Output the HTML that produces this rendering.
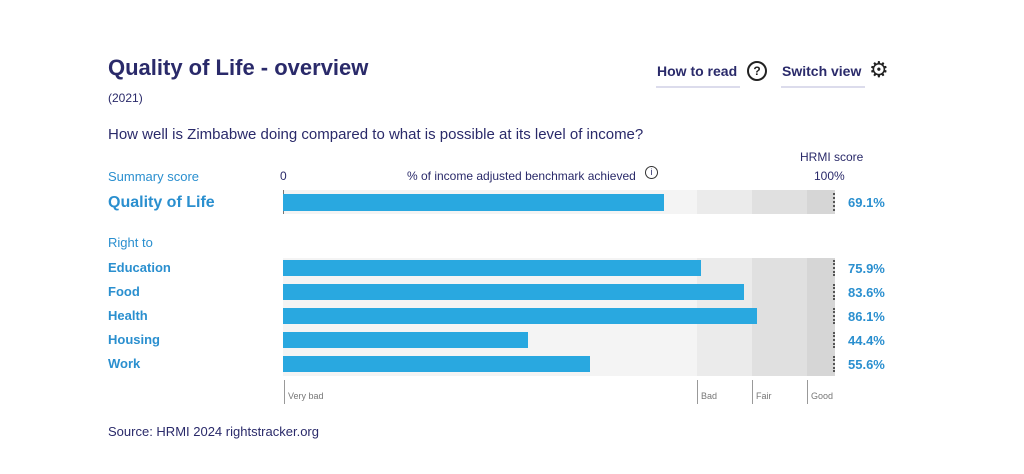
<!DOCTYPE html>
<html><head><style>
body{margin:0;width:1024px;height:474px;background:#fff;font-family:"Liberation Sans",sans-serif;position:relative;overflow:hidden}
.a{position:absolute;white-space:nowrap}
.t{color:#2a2a6a}
.b{color:#2a8fcf}
.bar{position:absolute;background:#29a8e0;left:283px}
.band{position:absolute}
.dot{position:absolute;left:833px;width:0;border-left:2px dotted #555}
</style></head><body>
<div class="a t" style="left:108px;top:55px;font-size:22px;font-weight:bold">Quality of Life - overview</div>
<div class="a t" style="left:108px;top:91px;font-size:12px">(2021)</div>
<div class="a t" style="left:657px;top:63px;font-size:14px;font-weight:bold">How to read</div>
<div class="a" style="left:656px;top:86px;width:84px;height:2px;background:#dcdcec"></div>
<div class="a t" style="left:747px;top:61px;width:16px;height:16px;border:2px solid #222;border-radius:50%;font-size:12px;text-align:center;line-height:16px;font-weight:bold;color:#222">?</div>
<div class="a t" style="left:782px;top:63px;font-size:14px;font-weight:bold">Switch view</div>
<div class="a" style="left:781px;top:86px;width:84px;height:2px;background:#dcdcec"></div>
<div class="a" style="left:869px;top:57px;font-size:22px;color:#222">⚙</div>
<div class="a t" style="left:108px;top:126px;font-size:15px">How well is Zimbabwe doing compared to what is possible at its level of income?</div>
<div class="a t" style="left:800px;top:150px;font-size:12px">HRMI score</div>
<div class="a b" style="left:108px;top:169px;font-size:13px">Summary score</div>
<div class="a t" style="left:280px;top:169px;font-size:12px">0</div>
<div class="a t" style="left:407px;top:169px;font-size:12px">% of income adjusted benchmark achieved</div>
<div class="a t" style="left:645px;top:166px;width:11px;height:11px;border:1px solid #333;border-radius:50%;font-size:9px;text-align:center;line-height:11px">i</div>
<div class="a t" style="left:814px;top:169px;font-size:12px">100%</div>
<div class="a b" style="left:108px;top:194px;font-size:16px;font-weight:bold">Quality of Life</div>
<div class="band" style="left:283px;top:190px;width:414px;height:24px;background:#f4f4f4"></div>
<div class="band" style="left:697px;top:190px;width:55px;height:24px;background:#ebebeb"></div>
<div class="band" style="left:752px;top:190px;width:55px;height:24px;background:#e0e0e0"></div>
<div class="band" style="left:807px;top:190px;width:28px;height:24px;background:#d6d6d6"></div>
<div class="a" style="left:283px;top:190px;width:1px;height:24px;background:#777"></div>
<div class="bar" style="top:194px;width:381px;height:17px"></div>
<div class="dot" style="top:193px;height:18px"></div>
<div class="a b" style="left:848px;top:195px;font-size:13px;font-weight:bold">69.1%</div>
<div class="a b" style="left:108px;top:235px;font-size:13px">Right to</div>
<div class="band" style="left:283px;top:258px;width:414px;height:118px;background:#f4f4f4"></div>
<div class="band" style="left:697px;top:258px;width:55px;height:118px;background:#ebebeb"></div>
<div class="band" style="left:752px;top:258px;width:55px;height:118px;background:#e0e0e0"></div>
<div class="band" style="left:807px;top:258px;width:28px;height:118px;background:#d6d6d6"></div>
<div class="a b" style="left:108px;top:260px;font-size:13px;font-weight:bold">Education</div>
<div class="bar" style="top:260px;width:418px;height:16px"></div>
<div class="dot" style="top:260px;height:16px"></div>
<div class="a b" style="left:848px;top:261px;font-size:13px;font-weight:bold">75.9%</div>
<div class="a b" style="left:108px;top:284px;font-size:13px;font-weight:bold">Food</div>
<div class="bar" style="top:284px;width:461px;height:16px"></div>
<div class="dot" style="top:284px;height:16px"></div>
<div class="a b" style="left:848px;top:285px;font-size:13px;font-weight:bold">83.6%</div>
<div class="a b" style="left:108px;top:308px;font-size:13px;font-weight:bold">Health</div>
<div class="bar" style="top:308px;width:474px;height:16px"></div>
<div class="dot" style="top:308px;height:16px"></div>
<div class="a b" style="left:848px;top:309px;font-size:13px;font-weight:bold">86.1%</div>
<div class="a b" style="left:108px;top:332px;font-size:13px;font-weight:bold">Housing</div>
<div class="bar" style="top:332px;width:245px;height:16px"></div>
<div class="dot" style="top:332px;height:16px"></div>
<div class="a b" style="left:848px;top:333px;font-size:13px;font-weight:bold">44.4%</div>
<div class="a b" style="left:108px;top:356px;font-size:13px;font-weight:bold">Work</div>
<div class="bar" style="top:356px;width:307px;height:16px"></div>
<div class="dot" style="top:356px;height:16px"></div>
<div class="a b" style="left:848px;top:357px;font-size:13px;font-weight:bold">55.6%</div>
<div class="a" style="left:284px;top:380px;width:1px;height:24px;background:#999"></div>
<div class="a" style="left:288px;top:391px;font-size:9px;color:#777">Very bad</div>
<div class="a" style="left:697px;top:380px;width:1px;height:24px;background:#999"></div>
<div class="a" style="left:701px;top:391px;font-size:9px;color:#777">Bad</div>
<div class="a" style="left:752px;top:380px;width:1px;height:24px;background:#999"></div>
<div class="a" style="left:756px;top:391px;font-size:9px;color:#777">Fair</div>
<div class="a" style="left:807px;top:380px;width:1px;height:24px;background:#999"></div>
<div class="a" style="left:811px;top:391px;font-size:9px;color:#777">Good</div>
<div class="a t" style="left:108px;top:424px;font-size:13px">Source: HRMI 2024 rightstracker.org</div>
</body></html>
